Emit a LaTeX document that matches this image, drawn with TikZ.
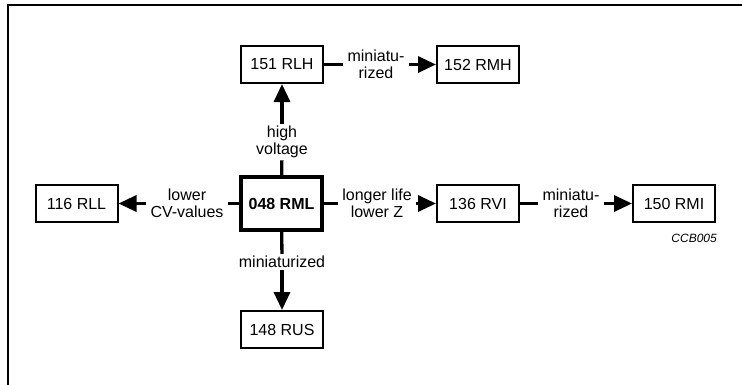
\documentclass[tikz,border=0pt]{standalone}
\usepackage{fontspec}
\setmainfont{Liberation Sans}
\usetikzlibrary{arrows.meta}
\begin{document}
\begin{tikzpicture}[x=1pt,y=-1pt,
  box/.style={draw,line width=2pt,minimum width=82pt,minimum height=37pt,inner sep=0pt,font=\fontsize{16}{18}\selectfont},
  mainbox/.style={box,line width=4pt,minimum width=81pt,minimum height=53pt,font=\fontsize{16}{18}\selectfont\bfseries},
  lbl/.style={align=center,inner xsep=4pt,inner ysep=2pt,font=\fontsize{16}{17.5}\selectfont},
  conn/.style={line width=3.3pt},
  arr/.style={conn,-{Triangle[length=18pt,width=16pt]}}]
\useasboundingbox (0,0) rectangle (742,384);
\clip (0,0) rectangle (742,384);
\draw[line width=2.3pt] (8,400) -- (8,5) -- (760,5);

\node[mainbox] (rml) at (281.5,203.5) {048 RML};
\node[box] (rlh) at (282,64.5) {151 RLH};
\node[box] (rmh) at (478,64.5) {152 RMH};
\node[box] (rll) at (76.5,203.5) {116 RLL};
\node[box] (rvi) at (478,203.5) {136 RVI};
\node[box] (rmi) at (674,203.5) {150 RMI};
\node[box] (rus) at (282,329.5) {148 RUS};

\node[lbl] (hv) at (282,142) {high\\voltage};
\node[lbl] (cv) at (187,203.5) {lower\\CV-values};
\node[lbl] (lz) at (377,203.5) {longer life\\lower Z};
\node[lbl] (m1) at (376,64.5) {miniatu-\\rized};
\node[lbl] (m2) at (571,203.5) {miniatu-\\rized};
\node[lbl] (m3) at (282,262) {miniaturized};
\node[anchor=base east,inner sep=0pt,font=\fontsize{12}{14}\selectfont\itshape] (code) at (717,242) {CCB005};

\draw[conn] (rml) -- (hv);
\draw[arr] (hv) -- (rlh);
\draw[conn] (rlh) -- (m1);
\draw[arr] (m1) -- (rmh);
\draw[conn] (rml) -- (cv);
\draw[arr] (cv) -- (rll);
\draw[conn] (rml) -- (lz);
\draw[arr] (lz) -- (rvi);
\draw[conn] (rvi) -- (m2);
\draw[arr] (m2) -- (rmi);
\draw[conn] (rml) -- (m3);
\draw[arr] (m3) -- (rus);
\end{tikzpicture}
\end{document}
